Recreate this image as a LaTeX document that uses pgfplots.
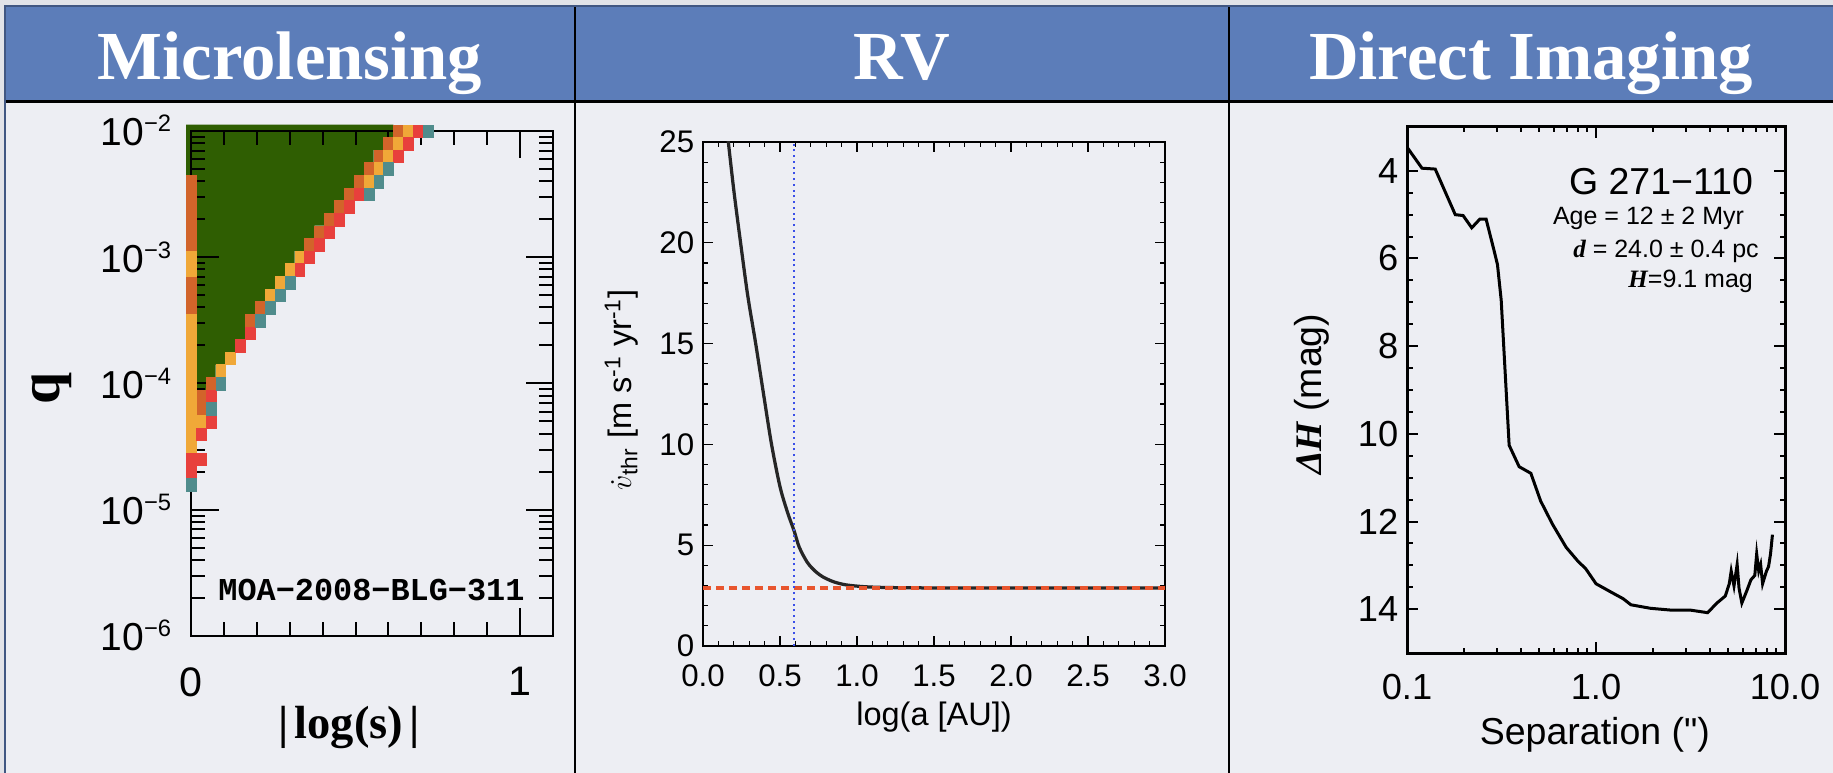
\documentclass[border=0pt]{standalone}
\usepackage{fontspec}
\usepackage{pgfplots}
\pgfplotsset{compat=1.18}
\setmainfont{Liberation Sans}
\newfontfamily\hv{Liberation Sans}
\newfontfamily\tms{Liberation Serif}
\newfontfamily\mono{Liberation Mono}
\newcommand\fs[1]{\fontsize{#1}{#1}\selectfont}

\definecolor{hdrblue}{HTML}{5C7DB9}
\definecolor{bodybg}{HTML}{EDEEF3}
\definecolor{outerbg}{HTML}{E2E3E8}
\definecolor{mlgreen}{HTML}{2F5E02}
\definecolor{mldkor}{HTML}{D2642A}
\definecolor{mlor}{HTML}{F0A838}
\definecolor{mlred}{HTML}{E8403C}
\definecolor{mlteal}{HTML}{508C8C}
\definecolor{rvred}{HTML}{E8552E}
\definecolor{rvblue}{HTML}{3A4FE8}

\pgfplotsset{
  panel/.style={scale only axis, anchor=south west, tick align=inside,
    tick pos=both, /pgf/number format/assume math mode=true},
  cell/.style={color=#1, only marks, mark=square*, mark size=1.97pt,
    mark options={draw=#1, line width=0.1pt, fill=#1, yscale=1.28}},
}
\newcommand\dec[1]{10\raisebox{5.6pt}{\fs{9.5}−#1}}

\begin{document}
\begin{tikzpicture}
% table background, drawn in image pixels (1px = 0.4pt)
\begin{scope}[x=0.4pt,y=0.4pt]
\useasboundingbox (0,0) rectangle (1833,773);
\fill[outerbg] (0,0) rectangle (1833,773);
\fill[bodybg] (5,0) rectangle (1833,671);
\fill[hdrblue] (5,671) rectangle (1833,767);
\draw[black, line width=1.2pt] (5,671) -- (1833,671);
\draw[black, line width=1.1pt] (575,0) -- (575,767);
\draw[black, line width=1.1pt] (1229,0) -- (1229,767);
\draw[hdrblue!70!black, line width=0.5pt] (5,0) -- (5,767) -- (1833,767);
\node[anchor=base, text=white, font=\tms\bfseries\fs{27.5}] at (290,693) {Microlensing};
\node[anchor=base, text=white, font=\tms\bfseries\fs{27.5}] at (902,693) {RV};
\node[anchor=base, text=white, font=\tms\bfseries\fs{27.5}] at (1531,693) {Direct Imaging};
\end{scope}

% ---- Microlensing
\begin{axis}[panel, at={(76.4pt,54.8pt)}, width=144.8pt, height=202pt,
  xmin=0, xmax=1.1, ymin=-6, ymax=-2,
  clip=false, axis on top,
  axis line style={line width=0.8pt},
  tick style={black, line width=0.8pt},
  major tick length=11pt, minor tick length=5.5pt,
  xtick={0,1}, minor x tick num=9,
  ytick={-6,-5,-4,-3,-2},
  yticklabels={\dec{6},\dec{5},\dec{4},\dec{3},\dec{2}},
  minor ytick={-5.699,-5.523,-5.398,-5.301,-5.222,-5.155,-5.097,-5.046,
    -4.699,-4.523,-4.398,-4.301,-4.222,-4.155,-4.097,-4.046,
    -3.699,-3.523,-3.398,-3.301,-3.222,-3.155,-3.097,-3.046,
    -2.699,-2.523,-2.398,-2.301,-2.222,-2.155,-2.097,-2.046},
  xticklabel style={font=\hv\fs{16.5}, yshift=-9pt},
  yticklabel style={font=\hv\fs{15.6}, anchor=base east, yshift=-6pt, xshift=-4.4pt},
  xlabel={|\hspace{2.5pt}log(s)\hspace{2.5pt}|},
  xlabel style={font=\tms\bfseries\fs{18.6}, at={(axis description cs:0.4365,-0.202)}, anchor=base},
  ylabel={q},
  ylabel style={font=\tms\bfseries\fs{23}, at={(axis description cs:-0.384,0.491)}, anchor=center},
]
\addplot[draw=none, fill=mlgreen] coordinates {
  (-0.015,-1.95) (0.615,-1.95) (0.615,-2.05) (0.585,-2.05) (0.585,-2.15)
  (0.555,-2.15) (0.555,-2.25) (0.525,-2.25) (0.525,-2.35) (0.495,-2.35)
  (0.495,-2.45) (0.465,-2.45) (0.465,-2.55) (0.435,-2.55) (0.435,-2.65)
  (0.405,-2.65) (0.405,-2.75) (0.375,-2.75) (0.375,-2.85) (0.345,-2.85)
  (0.345,-2.95) (0.315,-2.95) (0.315,-3.05) (0.285,-3.05) (0.285,-3.15)
  (0.255,-3.15) (0.255,-3.25) (0.225,-3.25) (0.225,-3.35) (0.195,-3.35)
  (0.195,-3.45) (0.165,-3.45) (0.165,-3.65) (0.135,-3.65) (0.135,-3.75)
  (0.105,-3.75) (0.105,-3.85) (0.075,-3.85) (0.075,-3.95) (0.045,-3.95)
  (0.045,-4.05) (-0.015,-4.05)} -- cycle;
\addplot[cell=mldkor] coordinates {
  (0.63,-2.0) (0.60,-2.1) (0.57,-2.2) (0.54,-2.3) (0.51,-2.4) (0.48,-2.5)
  (0.45,-2.6) (0.42,-2.7) (0.39,-2.8) (0.36,-2.9) (0.21,-3.4) (0.18,-3.5)
  (0.06,-4.0) (0.03,-4.1) (0.03,-4.2)
  (0,-2.4) (0,-2.5) (0,-2.6) (0,-2.7) (0,-2.8) (0,-2.9) (0,-3.2) (0,-3.3) (0,-3.4)};
\addplot[cell=mlor] coordinates {
  (0.66,-2.0) (0.63,-2.1) (0.60,-2.2) (0.57,-2.3) (0.54,-2.4) (0.33,-3.0)
  (0.30,-3.1) (0.27,-3.2) (0.24,-3.3) (0.12,-3.8) (0.09,-3.9) (0.03,-4.3)
  (0,-3.0) (0,-3.1) (0,-3.5) (0,-3.6) (0,-3.7) (0,-3.8) (0,-3.9) (0,-4.0)
  (0,-4.1) (0,-4.2) (0,-4.3) (0,-4.4) (0,-4.5)};
\addplot[cell=mlred] coordinates {
  (0.69,-2.0) (0.66,-2.1) (0.63,-2.2) (0.51,-2.5) (0.48,-2.6) (0.45,-2.7)
  (0.42,-2.8) (0.39,-2.9) (0.36,-3.0) (0.33,-3.1) (0.18,-3.6) (0.15,-3.7)
  (0.06,-4.1) (0.06,-4.3) (0.03,-4.4) (0.03,-4.6) (0,-4.6) (0,-4.7)};
\addplot[cell=mlteal] coordinates {
  (0.72,-2.0) (0.60,-2.3) (0.57,-2.4) (0.54,-2.5) (0.30,-3.2) (0.27,-3.3)
  (0.24,-3.4) (0.21,-3.5) (0.09,-4.0) (0.06,-4.2) (0,-4.8)};
\node[anchor=west, inner sep=0pt, font=\mono\bfseries\fs{12.75}] at (axis cs:0.082,-5.636) {MOA−2008−BLG−311};
\end{axis}

% ---- RV
\begin{axis}[panel, at={(281.2pt,50.8pt)}, width=184.8pt, height=201.6pt,
  xmin=0, xmax=3, ymin=0, ymax=25,
  xtick={0,0.5,1,1.5,2,2.5,3}, minor x tick num=4,
  ytick={0,5,10,15,20,25}, minor y tick num=4,
  axis line style={line width=0.6pt},
  tick style={black, line width=0.5pt},
  major tick length=4pt, minor tick length=2pt,
  xticklabel style={font=\hv\fs{12.5}, yshift=-4pt, /pgf/number format/fixed,
    /pgf/number format/fixed zerofill, /pgf/number format/precision=1},
  yticklabel style={font=\hv\fs{12.5}},
  xlabel={log(a [AU])},
  xlabel style={font=\hv\fs{13}, at={(axis description cs:0.5,-0.141)}, anchor=center},
  ylabel={$\dot{v}$\textsubscript{thr} [m s\textsuperscript{-1} yr\textsuperscript{-1}]},
  ylabel style={font=\hv\fs{13}, at={(axis description cs:-0.177,0.508)}, anchor=center},
]
\addplot[black!85, line width=1.3pt, smooth] coordinates {
  (0.160,25.3) (0.200,22.6) (0.244,20.0) (0.290,17.4) (0.342,15.0) (0.395,12.4)
  (0.445,10.0) (0.500,7.9) (0.550,6.6) (0.592,5.7) (0.625,4.9) (0.677,4.15)
  (0.730,3.70) (0.780,3.42) (0.850,3.18) (0.930,3.03) (1.050,2.94) (1.200,2.90)
  (1.500,2.88) (2.000,2.88) (3.000,2.88)};
\addplot[rvred, line width=1.3pt, dash pattern=on 3.2pt off 2pt] coordinates {(0,2.88) (3,2.88)};
\addplot[rvblue, line width=0.9pt, dash pattern=on 0.8pt off 1.5pt] coordinates {(0.592,0) (0.592,25)};
\end{axis}

% ---- Direct imaging
\begin{axis}[panel, at={(562.8pt,48pt)}, width=151.2pt, height=210.4pt,
  xmode=log, xmin=0.1, xmax=10, ymin=3, ymax=15, y dir=reverse,
  xtick={0.1,1,10}, xticklabels={0.1,1.0,10.0},
  ytick={4,6,8,10,12,14}, minor y tick num=3,
  axis line style={line width=1.2pt},
  tick style={black, line width=0.8pt},
  major tick length=4.5pt, minor tick length=2.2pt,
  xticklabel style={font=\hv\fs{14.5}, yshift=-4.8pt},
  yticklabel style={font=\hv\fs{14.5}},
  xlabel={Separation (")},
  xlabel style={font=\hv\fs{15}, at={(axis description cs:0.497,-0.156)}, anchor=center},
  ylabel={{\tms\bfseries\itshape ΔH} (mag)},
  ylabel style={font=\hv\fs{15}, at={(axis description cs:-0.251,0.492)}, anchor=center},
]
\addplot[black, line width=1.2pt] coordinates {
  (0.100,3.46) (0.120,3.94) (0.141,3.96) (0.160,4.50) (0.180,5.00) (0.198,5.02)
  (0.220,5.30) (0.243,5.10) (0.262,5.10) (0.288,5.80) (0.301,6.14) (0.315,6.95)
  (0.347,10.26) (0.392,10.75) (0.452,10.90) (0.509,11.53) (0.588,12.06)
  (0.695,12.59) (0.800,12.90) (0.883,13.08) (1.00,13.42) (1.20,13.61) (1.39,13.76)
  (1.53,13.90) (1.94,13.98) (2.47,14.02) (3.14,14.02) (3.89,14.08) (4.39,13.85)
  (4.83,13.70) (5.07,13.42) (5.19,13.13) (5.37,13.47) (5.58,12.98) (5.71,13.52)
  (5.91,13.86) (6.29,13.57) (6.60,13.33) (6.92,13.23) (7.08,12.74) (7.26,13.13)
  (7.43,12.98) (7.61,13.42) (7.98,13.13) (8.18,13.03) (8.38,12.74) (8.58,12.30)};
\node[anchor=east, inner sep=0pt, font=\hv\fs{15}] at (axis cs:6.8,4.24) {G 271−110};
\node[anchor=east, inner sep=0pt, font=\hv\fs{10}] at (axis cs:6.1,5.09) {Age = 12 ± 2 Myr};
\node[anchor=east, inner sep=0pt, font=\hv\fs{10}] at (axis cs:7.3,5.84) {{\tms\bfseries\itshape d} = 24.0 ± 0.4 pc};
\node[anchor=east, inner sep=0pt, font=\hv\fs{10}] at (axis cs:6.8,6.52) {{\tms\bfseries\itshape H}=9.1 mag};
\end{axis}
\end{tikzpicture}
\end{document}
